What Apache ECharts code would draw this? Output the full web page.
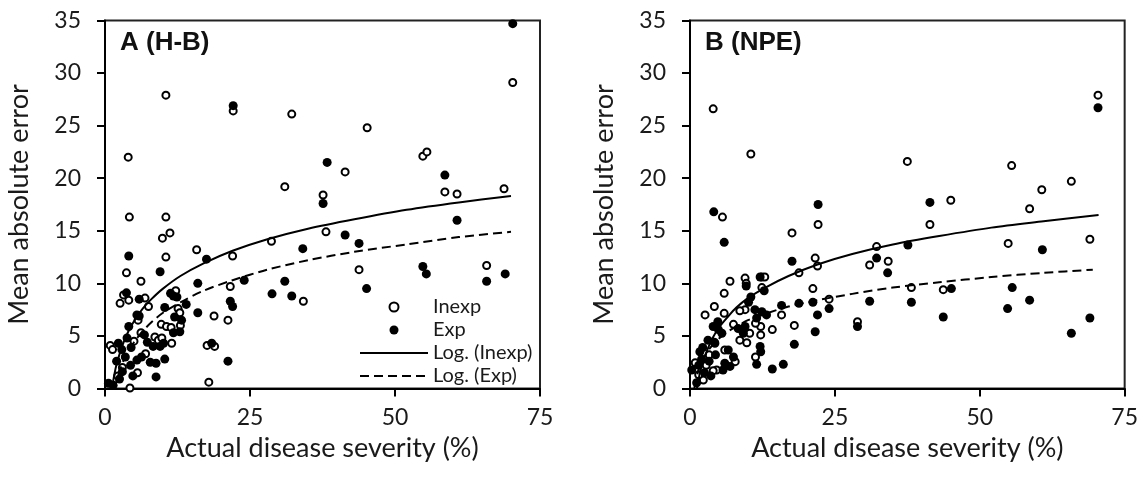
<!DOCTYPE html>
<html>
<head>
<meta charset="utf-8">
<script src="https://cdn.jsdelivr.net/npm/echarts@6/dist/echarts.min.js"></script>
<style>
  html, body {margin: 0; padding: 0; background: #fff;}
  #main {width: 1141px; height: 479px;}
</style>
</head>
<body>
<div id="main"></div>
<script>
// axis ranges / ticks
const xTicks = [0, 25, 50, 75];
const yTicks = [0, 5, 10, 15, 20, 25, 30, 35];
const panelTitles = ['A (H-B)', 'B (NPE)'];
const seriesNames = ['Inexp', 'Exp', 'Log. (Inexp)', 'Log. (Exp)'];

// panel A (H-B): [actual severity %, mean absolute error]
const aInexp = [
  [10.5, 27.9], [4.0, 22.0], [22.1, 26.4], [32.2, 26.1], [45.2, 24.8], [54.8, 22.1], [55.5, 22.5],
  [41.4, 20.6], [31.0, 19.2], [58.6, 18.7], [60.7, 18.5], [70.3, 29.1], [68.8, 19.0], [37.6, 18.4],
  [38.1, 14.9], [4.2, 16.3], [10.5, 16.3], [11.2, 14.8], [9.9, 14.3], [10.5, 12.5], [15.8, 13.2],
  [22.0, 12.6], [28.7, 14.0], [3.7, 11.0], [6.2, 10.2], [21.6, 9.7], [34.2, 8.3], [18.8, 6.9],
  [21.2, 6.5], [17.6, 4.1], [18.9, 4.0], [17.9, 0.6], [4.3, 0.05], [0.9, 4.1], [1.3, 3.7],
  [2.6, 8.1], [3.2, 8.9], [4.1, 8.4], [6.9, 8.6], [7.5, 7.8], [5.7, 6.5], [6.2, 5.3], [12.6, 7.6],
  [12.9, 7.2], [9.7, 6.1], [10.6, 5.9], [11.4, 5.8], [8.6, 4.9], [9.2, 4.6], [9.8, 4.8], [11.5, 4.3],
  [5.6, 1.5], [43.8, 11.3], [65.8, 11.7], [7.0, 3.3], [3.0, 2.0], [2.2, 1.2], [5.0, 4.5], [12.2, 9.3],
  [13.0, 6.0]
];
const aExp = [
  [70.3, 34.7], [22.1, 26.9], [38.3, 21.5], [58.6, 20.3], [37.6, 17.6], [60.7, 16.0], [41.4, 14.6],
  [43.8, 13.8], [34.1, 13.3], [45.1, 9.5], [54.8, 11.6], [55.4, 10.9], [65.8, 10.2], [69.0, 10.9],
  [4.1, 12.6], [9.5, 11.1], [17.5, 12.3], [16.0, 10.0], [24.0, 10.3], [31.0, 10.2], [28.8, 9.0],
  [32.2, 8.8], [21.6, 8.3], [22.0, 7.8], [16.0, 7.2], [14.0, 8.0], [11.3, 9.05], [12.4, 8.7],
  [10.3, 7.7], [18.4, 4.3], [21.2, 2.6], [8.8, 1.1], [1.4, 0.3], [0.6, 0.5], [3.7, 9.1], [5.9, 8.5],
  [5.9, 6.9], [4.1, 5.9], [11.8, 5.3], [12.9, 5.4], [10.1, 4.3], [8.3, 4.0], [9.5, 4.0], [7.8, 2.5],
  [8.8, 2.4], [10.3, 2.8], [6.3, 3.0], [5.5, 2.7], [2.3, 4.3], [2.9, 3.7], [3.5, 3.0], [4.4, 2.2],
  [3.0, 1.6], [2.5, 0.9], [4.8, 1.2], [3.8, 4.8], [4.5, 3.9], [2.0, 2.6], [11.8, 8.8], [12.0, 6.8],
  [13.2, 6.5], [6.8, 5.1], [7.3, 4.4], [5.5, 7.0]
];
// trend lines
const aLogInexp = [
  [1.2, 0.0], [1.6, 1.3], [2, 2.3], [3, 4.1], [4, 5.4], [5, 6.4], [6.5, 7.6], [8, 8.5], [10, 9.5],
  [13, 10.7], [17, 11.9], [22, 13.1], [28, 14.2], [35, 15.2], [43, 16.1], [52, 17.0], [61, 17.7], [70, 18.3]
];
const aLogExp = [
  [1.66, 0.0], [2, 0.75], [3, 2.4], [4, 3.5], [5, 4.4], [6.5, 5.45], [8, 6.3], [10, 7.2], [13, 8.2],
  [17, 9.3], [22, 10.3], [28, 11.3], [35, 12.2], [43, 13.0], [52, 13.7], [61, 14.4], [70, 14.9]
];

// panel B (NPE)
const bInexp = [
  [4.0, 26.6], [10.5, 22.3], [37.5, 21.6], [70.4, 27.9], [55.5, 21.2], [65.8, 19.7], [60.7, 18.9],
  [58.6, 17.1], [45.0, 17.9], [41.4, 15.6], [54.9, 13.8], [69.0, 14.2], [38.2, 9.6], [43.7, 9.4],
  [5.6, 16.3], [22.1, 15.6], [17.6, 14.8], [21.6, 12.4], [22.0, 11.65], [18.8, 11.0], [21.2, 9.5],
  [24.0, 8.5], [15.8, 7.0], [18.0, 6.0], [28.9, 6.35], [14.2, 5.6], [11.3, 3.0], [31.0, 11.75],
  [32.2, 13.5], [34.2, 12.1], [9.5, 10.5], [9.7, 10.0], [12.4, 10.6], [12.9, 10.6], [12.4, 9.6],
  [6.9, 10.2], [5.9, 9.05], [4.2, 7.8], [2.6, 7.0], [5.9, 7.15], [7.5, 6.1], [9.5, 7.5], [8.6, 7.4],
  [12.2, 5.9], [12.2, 5.1], [11.3, 6.2], [10.3, 5.25], [8.6, 4.6], [9.8, 4.35], [4.3, 4.3], [6.0, 3.66],
  [7.8, 2.55], [4.6, 1.76], [0.9, 2.45], [2.3, 0.8], [4.0, 1.7], [1.5, 1.3], [3.3, 3.2], [2.8, 2.2]
];
const bExp = [
  [70.4, 26.7], [4.1, 16.8], [22.1, 17.5], [41.4, 17.7], [37.6, 13.65], [60.8, 13.2], [38.2, 8.2],
  [45.1, 9.5], [43.7, 6.8], [55.6, 9.6], [54.8, 7.6], [58.6, 8.4], [65.8, 5.25], [69.0, 6.7],
  [5.9, 13.9], [17.6, 12.1], [18.8, 8.1], [21.2, 8.2], [22.0, 7.0], [24.0, 7.6], [15.8, 7.9],
  [18.0, 4.2], [21.6, 5.4], [28.9, 5.9], [14.2, 1.85], [16.1, 2.3], [11.5, 2.3], [12.2, 3.5],
  [12.1, 4.0], [31.0, 8.3], [32.2, 12.4], [34.1, 11.0], [9.7, 9.75], [12.1, 10.6], [10.5, 8.7],
  [4.8, 6.35], [4.0, 5.9], [4.9, 5.6], [5.5, 5.25], [3.1, 4.6], [4.2, 4.4], [10.1, 8.2], [11.2, 7.5],
  [12.4, 7.3], [13.2, 7.0], [11.5, 6.7], [9.5, 5.9], [9.2, 5.25], [8.3, 5.7], [6.6, 3.66], [7.5, 3.0],
  [6.0, 2.4], [6.9, 2.1], [5.7, 1.76], [1.15, 0.55], [0.3, 1.76], [1.7, 3.5], [2.0, 2.8], [1.5, 2.2],
  [2.5, 1.5], [3.3, 2.6], [4.4, 3.2], [3.6, 1.2], [2.2, 3.9], [12.8, 9.3]
];
const bLogInexp = [
  [1.2, 0.0], [1.6, 1.2], [2, 2.1], [3, 3.7], [4, 4.9], [5, 5.8], [6.5, 6.8], [8, 7.7], [10, 8.6],
  [13, 9.6], [17, 10.7], [22, 11.8], [28, 12.8], [35, 13.7], [43, 14.5], [52, 15.3], [61, 15.9], [70.5, 16.5]
];
const bLogExp = [
  [0.75, 0.05], [1, 0.76], [1.5, 1.8], [2, 2.5], [3, 3.5], [4, 4.2], [5, 4.75], [6.5, 5.4], [8, 5.9],
  [10, 6.5], [13, 7.1], [17, 7.8], [22, 8.4], [28, 9.0], [35, 9.6], [43, 10.1], [52, 10.6], [61, 11.0], [69.5, 11.3]
];

const font = 'Lato, "Open Sans", sans-serif';
const ink = '#1a1a1a';

function xAxis(i) {
  return {
    gridIndex: i, type: 'value',
    min: xTicks[0], max: xTicks[xTicks.length - 1], interval: xTicks[1] - xTicks[0],
    name: 'Actual disease severity (%)', nameLocation: 'middle', nameGap: 38,
    nameTextStyle: {fontSize: 27, fontFamily: font, color: ink},
    axisLine: {lineStyle: {color: '#000', width: 2}},
    axisTick: {length: 8, lineStyle: {color: '#000', width: 2}},
    axisLabel: {fontSize: 23, fontFamily: font, color: ink, margin: 18},
    splitLine: {show: false}
  };
}

function yAxis(i) {
  return {
    gridIndex: i, type: 'value',
    min: yTicks[0], max: yTicks[yTicks.length - 1], interval: yTicks[1] - yTicks[0],
    name: 'Mean absolute error', nameLocation: 'middle', nameGap: 72,
    nameTextStyle: {fontSize: 27, fontFamily: font, color: ink},
    axisLine: {show: true, lineStyle: {color: '#000', width: 2}},
    axisTick: {show: true, length: 8, lineStyle: {color: '#000', width: 2}},
    axisLabel: {fontSize: 23, fontFamily: font, color: ink, margin: 24},
    splitLine: {show: false}
  };
}

function panelSeries(i, inexp, exp, logInexp, logExp) {
  return [
    {
      name: seriesNames[0], type: 'scatter', xAxisIndex: i, yAxisIndex: i, data: inexp,
      symbol: 'circle', symbolSize: 7,
      itemStyle: {color: '#fff', borderColor: '#000', borderWidth: 2, opacity: 1}
    },
    {
      name: seriesNames[1], type: 'scatter', xAxisIndex: i, yAxisIndex: i, data: exp,
      symbol: 'circle', symbolSize: 9,
      itemStyle: {color: '#000', opacity: 1}
    },
    {
      name: seriesNames[2], type: 'line', xAxisIndex: i, yAxisIndex: i, data: logInexp,
      symbol: 'none', smooth: 0.3, color: '#000',
      lineStyle: {color: '#000', width: 2}
    },
    {
      name: seriesNames[3], type: 'line', xAxisIndex: i, yAxisIndex: i, data: logExp,
      symbol: 'none', smooth: 0.3, color: '#000',
      lineStyle: {color: '#000', width: 2, type: [9, 5]}
    }
  ];
}

// legend entries for the trend lines: line only, no marker
const hiddenMarker = {color: 'rgba(0,0,0,0)', borderColor: 'rgba(0,0,0,0)', borderWidth: 0};

const chart = echarts.init(document.getElementById('main'));
chart.setOption({
  animation: false,
  backgroundColor: '#fff',
  title: [
    {text: panelTitles[0], left: 120, top: 30, padding: 0,
      textStyle: {fontFamily: '"Liberation Sans", Arial, sans-serif', fontWeight: 'bold', fontSize: 26, color: '#111'}},
    {text: panelTitles[1], left: 705, top: 30, padding: 0,
      textStyle: {fontFamily: '"Liberation Sans", Arial, sans-serif', fontWeight: 'bold', fontSize: 26, color: '#111'}}
  ],
  legend: {
    data: [
      {name: seriesNames[0]},
      {name: seriesNames[1]},
      {name: seriesNames[2], itemStyle: hiddenMarker},
      {name: seriesNames[3], itemStyle: hiddenMarker}
    ],
    orient: 'vertical', left: 359, top: 297,
    itemWidth: 68, itemHeight: 9, itemGap: 3, padding: 0, selectedMode: false,
    textStyle: {fontSize: 20, fontFamily: font, color: ink, lineHeight: 18}
  },
  grid: [
    {left: 105, width: 435, top: 20.5, height: 368, show: true, borderColor: '#222', borderWidth: 2, backgroundColor: 'transparent'},
    {left: 690, width: 435, top: 20.5, height: 368, show: true, borderColor: '#222', borderWidth: 2, backgroundColor: 'transparent'}
  ],
  xAxis: [xAxis(0), xAxis(1)],
  yAxis: [yAxis(0), yAxis(1)],
  series: [
    ...panelSeries(0, aInexp, aExp, aLogInexp, aLogExp),
    ...panelSeries(1, bInexp, bExp, bLogInexp, bLogExp)
  ]
});
</script>
</body>
</html>
